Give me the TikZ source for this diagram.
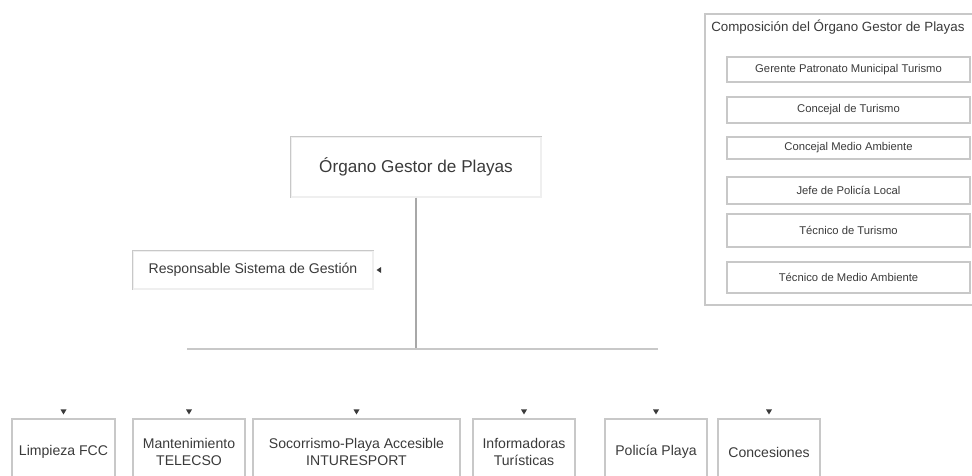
\documentclass[tikz,border=0pt]{standalone}
\usepackage{fontspec}
\setmainfont{Liberation Sans}
\usepackage{tikz}
\usetikzlibrary{positioning}

\definecolor{tinta}{HTML}{3A3A3A}
\definecolor{borde}{HTML}{C8C8C8}
\definecolor{tenue}{HTML}{EFEFEF}
\definecolor{linea}{HTML}{A8A8A8}
\newcommand{\pxl}{0.025cm}

\tikzset{
  caja/.style={draw=borde, line width=0.8pt, text=tinta, inner sep=0pt, align=center},
  esquina/.style={caja, draw=tenue},
  miembro/.style={caja, minimum width=243*\pxl, font=\fontsize{8}{9.5}\selectfont},
  servicio/.style={caja, minimum height=66*\pxl, font=\fontsize{10}{12}\selectfont}
}

\begin{document}
\begin{tikzpicture}[x=\pxl, y=-\pxl]
        \useasboundingbox (0,0) rectangle (972,475);
        \clip (0,0) rectangle (972,475);

        % organo gestor y responsable
        \node[esquina, minimum width=250*\pxl, minimum height=60*\pxl, font=\fontsize{12.2}{14}\selectfont] (organo) at (416,167) {Órgano Gestor de Playas};
        \node[esquina, minimum width=240*\pxl, minimum height=38*\pxl, font=\fontsize{10}{12}\selectfont] (responsable) at (253,270) {Responsable Sistema de Gestión};
        \draw[borde, line width=0.8pt] (organo.south west) -- (organo.north west) -- (organo.north east);
        \draw[borde, line width=0.8pt] (responsable.south west) -- (responsable.north west) -- (responsable.north east);
        \fill[tinta, shift={(responsable.east)}] (3,0) -- (7.5,-3) -- (7.5,3) -- cycle;

        % bus de servicios
        \coordinate (bus) at (416,349);
        \coordinate (busL) at (187,349);
        \coordinate (busR) at (658,349);
        \draw[linea, line width=0.8pt] (organo.south) -- (bus);
        \draw[borde, line width=0.8pt] (busL) -- (busR);

        % servicios
        \node[servicio, minimum width=103*\pxl] (limpieza) at (63.5,452) {Limpieza FCC};
        \node[servicio, minimum width=112*\pxl] (mantenimiento) at (189,452) {Mantenimiento\\TELECSO};
        \node[servicio, minimum width=207*\pxl] (socorrismo) at (356.5,452) {Socorrismo-Playa Accesible\\INTURESPORT};
        \node[servicio, minimum width=102*\pxl] (informadoras) at (524,452) {Informadoras\\Turísticas};
        \node[servicio, minimum width=102*\pxl] (policia) at (656,452) {Policía Playa};
        \node[servicio, minimum width=102*\pxl] (concesiones) at (769,452) {Concesiones};
        \foreach \n in {limpieza, mantenimiento, socorrismo, informadoras, policia, concesiones}
            \fill[tinta, shift={(\n.north)}] (-3,-9) -- (3,-9) -- (0,-4) -- cycle;

        % composicion del organo
        \draw[borde, line width=0.8pt] (705,14) rectangle (990,305);
        \node[text=tinta, anchor=west, inner sep=0pt, font=\fontsize{9.5}{11}\selectfont] (composicion) at (711,27) {Composición del Órgano Gestor de Playas};
        \node[miembro, minimum height=25*\pxl] (gerente) at (848.5,69.5) {Gerente Patronato Municipal Turismo};
        \node[miembro, minimum height=26*\pxl] (concejalT) at (848.5,110) {Concejal de Turismo};
        \node[miembro, minimum height=22*\pxl] (concejalMA) at (848.5,148) {Concejal Medio Ambiente};
        \node[miembro, minimum height=27*\pxl] (jefe) at (848.5,190.5) {Jefe de Policía Local};
        \node[miembro, minimum height=33*\pxl] (tecnicoT) at (848.5,230.5) {Técnico de Turismo};
        \node[miembro, minimum height=31*\pxl] (tecnicoMA) at (848.5,277.5) {Técnico de Medio Ambiente};
    \end{tikzpicture}
\end{document}
